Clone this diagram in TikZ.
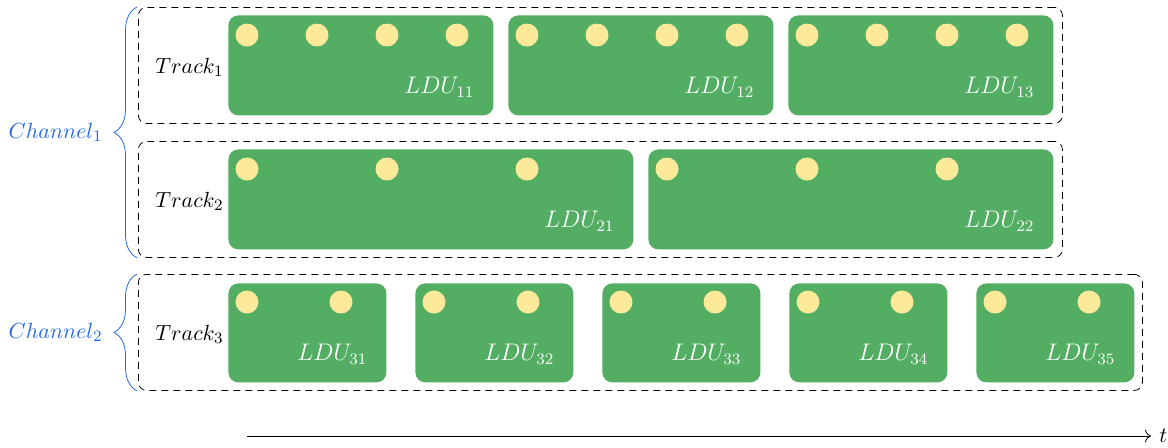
\documentclass[tikz,border=0pt]{standalone}
\usepackage{amsmath}
\usepackage{xcolor}
\usepackage{tikz}
\usetikzlibrary{arrows.meta,positioning,decorations.pathreplacing}
\definecolor{lduGreen}{HTML}{53AE63}
\definecolor{dotYellow}{HTML}{FCEA9A}
\definecolor{chanBlue}{HTML}{2368EE}

\begin{document}
\begin{tikzpicture}[x=0.5pt,y=-0.5pt,every node/.style={font=\fontsize{10.95}{13}\selectfont,inner sep=0pt},track/.style={draw=black,dash pattern=on 3.5pt off 2.5pt,rounded corners=4pt,minimum height=58pt,anchor=north west},ldu/.style={fill=lduGreen,rounded corners=5pt,minimum height=50pt,anchor=north west},lbl/.style={text=white,font=\fontsize{12}{14}\selectfont},dot/.style={fill=dotYellow},chan/.style={text=chanBlue},brc/.style={draw=chanBlue,decorate,decoration={brace,amplitude=11.5pt}},arr/.style={-{To[length=3pt]},draw=black}]
\useasboundingbox (0,0) rectangle (1168,447);
% tracks
\node[track,minimum width=462pt] (track1) at (138,7) {};
\node[track,minimum width=462pt] (track2) at (138,141) {};
\node[track,minimum width=502pt] (track3) at (138,274) {};
\foreach \i in {1,2,3} \node[right=8.5pt of track\i.west,yshift=-1pt] (tl\i) {$Track_{\i}$};
% LDUs of track 1
\foreach \i/\x in {1/228,2/508,3/788} {
  \node[ldu,minimum width=132.5pt] (ldu1\i) at (\x,15) {};
  \node[lbl,above left=9pt and 9.5pt of ldu1\i.south east] (l1\i) {$LDU_{1\i}$};
  \foreach \k in {0,...,3} \fill[dot] (\x+19+70*\k,35) circle (5.75pt);
}
% LDUs of track 2
\foreach \i/\x in {1/228,2/648} {
  \node[ldu,minimum width=202.5pt] (ldu2\i) at (\x,149) {};
  \node[lbl,above left=9pt and 9.5pt of ldu2\i.south east] (l2\i) {$LDU_{2\i}$};
  \foreach \k in {0,1,2} \fill[dot] (\x+19+140*\k,169) circle (5.75pt);
}
% LDUs of track 3
\foreach \i/\x in {1/228,2/415,3/602,4/789,5/976} {
  \node[ldu,minimum width=79pt,minimum height=49.5pt] (ldu3\i) at (\x,283) {};
  \node[lbl,above left=9pt and 9.5pt of ldu3\i.south east] (l3\i) {$LDU_{3\i}$};
  \foreach \k in {0,1} \fill[dot] (\x+19+94*\k,302) circle (5.75pt);
}
% channels
\draw[brc] ([xshift=-0.5pt]track2.south west) -- node[chan,left=17pt] (ch1) {$Channel_{1}$} ([xshift=-0.5pt]track1.north west);
\draw[brc] ([xshift=-0.5pt]track3.south west) -- node[chan,left=17pt] (ch2) {$Channel_{2}$} ([xshift=-0.5pt]track3.north west);
% time axis
\coordinate (t0) at (247,436);\coordinate (t1) at (1151,436);
\draw[arr] (t0) -- (t1) node[right=4pt] (tlab) {$t$};
\end{tikzpicture}
\end{document}
